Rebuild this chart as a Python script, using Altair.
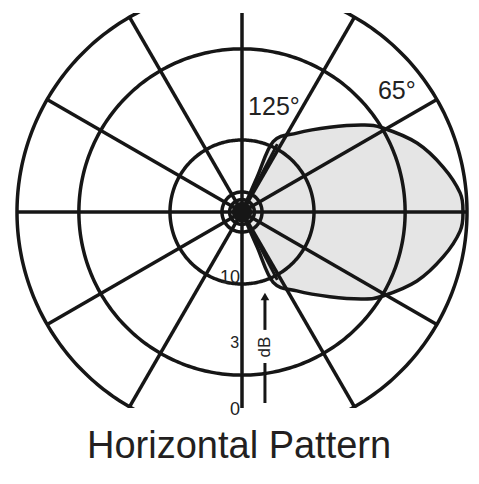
import numpy as np
import pandas as pd
import altair as alt

# ---- values ----
ring_radius = [1.0, 0.725, 0.32, 0.089, 0.055]      # grid rings (outer ring = 0 dB)
spoke_angles = [0, 30, 60, 90, 120, 150]             # diameters, degrees
lobe_angle = [0, 5, 12.6, 21.5, 30.8, 35.7, 44.0, 55.2, 66.1, 66.6, 90]
lobe_radius = [0.982, 0.973, 0.916, 0.836, 0.729, 0.662, 0.542, 0.427, 0.342, 0.17, 0.0]
wide_half_angle = [62.5, -62.5]                      # 125 deg pattern edges
wide_radius = [0.34, 0.34]

ring_label_text = ["0", "3", "10"]
ring_label_x = [-0.009, -0.013, -0.009]
ring_label_y = [-0.902, -0.604, -0.316]
ring_label_size = [18, 16, 18]

beam_text = ["125°", "65°"]
beam_x = [0.027, 0.604]
beam_y = [0.431, 0.502]

title_text = "Horizontal Pattern"

INK = "#161616"
FONT = "Liberation Sans"
LW = 3.5

X = alt.Scale(domain=[-242 / 225, 237 / 225], zero=False, nice=False)
Y = alt.Scale(domain=[-196 / 225, 199 / 225], zero=False, nice=False)

def xy(extra=None):
    enc = dict(
        x=alt.X("x:Q", scale=X, axis=None),
        y=alt.Y("y:Q", scale=Y, axis=None),
    )
    if extra:
        enc.update(extra)
    return enc

# rings
t = np.linspace(0, 2 * np.pi, 361)
ring_rows = []
for k, r in enumerate(ring_radius):
    for i, a in enumerate(t):
        ring_rows.append({"ring": k, "i": i, "x": r * np.cos(a), "y": r * np.sin(a)})
rings_df = pd.DataFrame(ring_rows)

# spokes
spoke_rows = []
for k, a in enumerate(spoke_angles):
    ra = np.radians(a)
    spoke_rows.append({"s": k, "i": 0, "x": -np.cos(ra), "y": -np.sin(ra)})
    spoke_rows.append({"s": k, "i": 1, "x": np.cos(ra), "y": np.sin(ra)})
spokes_df = pd.DataFrame(spoke_rows)

# lobe (symmetric)
la = np.radians(lobe_angle)
lr = np.array(lobe_radius)
top_x = lr * np.cos(la)
top_y = lr * np.sin(la)
area_df = pd.DataFrame({"x": top_x, "y": top_y, "y2": -top_y})

outline_x = list(top_x[::-1]) + list(top_x[1:])
outline_y = list(top_y[::-1]) + list(-top_y[1:])
outline_df = pd.DataFrame({"x": outline_x, "y": outline_y, "i": range(len(outline_x))})

wide_rows = []
for k, (a, r) in enumerate(zip(wide_half_angle, wide_radius)):
    wide_rows.append({"w": k, "i": 0, "x": 0.0, "y": 0.0})
    wide_rows.append({"w": k, "i": 1, "x": r * np.cos(np.radians(a)), "y": r * np.sin(np.radians(a))})
wide_df = pd.DataFrame(wide_rows)

area = alt.Chart(area_df).mark_area(color="#e5e5e5", interpolate="cardinal", clip=True).encode(
    x=alt.X("x:Q", scale=X, axis=None),
    y=alt.Y("y:Q", scale=Y, axis=None),
    y2="y2:Q",
)

rings = alt.Chart(rings_df).mark_line(color=INK, strokeWidth=LW, clip=True).encode(
    **xy({"detail": "ring:N", "order": "i:Q"})
)

spokes = alt.Chart(spokes_df).mark_line(color=INK, strokeWidth=LW, clip=True).encode(
    **xy({"detail": "s:N", "order": "i:Q"})
)

outline = alt.Chart(outline_df).mark_line(color=INK, strokeWidth=LW, interpolate="cardinal", clip=True).encode(
    **xy({"order": "i:Q"})
)

wide = alt.Chart(wide_df).mark_line(color=INK, strokeWidth=3, clip=True).encode(
    **xy({"detail": "w:N", "order": "i:Q"})
)

hub = alt.Chart(pd.DataFrame({"x": [0.0], "y": [0.0]})).mark_point(
    filled=True, color=INK, size=420, opacity=1
).encode(**xy())

ring_labels = alt.Chart(pd.DataFrame({
    "x": ring_label_x, "y": ring_label_y, "t": ring_label_text, "s": ring_label_size
})).mark_text(align="right", baseline="alphabetic", font=FONT, color="#222222").encode(
    **xy({"text": "t:N", "size": alt.Size("s:Q", scale=None, legend=None)})
)

beam_labels = alt.Chart(pd.DataFrame({"x": beam_x, "y": beam_y, "t": beam_text})).mark_text(
    align="left", baseline="alphabetic", font=FONT, fontSize=25, color="#222222"
).encode(**xy({"text": "t:N"}))

# dB arrow
arrow_x = 0.102
arrow_segs = pd.DataFrame({
    "seg": [0, 0, 1, 1],
    "i": [0, 1, 0, 1],
    "x": [arrow_x] * 4,
    "y": [-0.391, -0.524, -0.671, -0.849],
})
arrow_lines = alt.Chart(arrow_segs).mark_line(color=INK, strokeWidth=3).encode(
    **xy({"detail": "seg:N", "order": "i:Q"})
)
arrow_head = alt.Chart(pd.DataFrame({"x": [arrow_x], "y": [-0.375]})).mark_point(
    shape="triangle-up", filled=True, color=INK, size=75, opacity=1
).encode(**xy())
db_text = alt.Chart(pd.DataFrame({"x": [arrow_x + 0.002], "y": [-0.6], "t": ["dB"]})).mark_text(
    angle=270, align="center", baseline="middle", font=FONT, fontSize=17, color="#222222"
).encode(**xy({"text": "t:N"}))

title = alt.Chart(pd.DataFrame({"x": [-0.013], "y": [-1.093], "t": [title_text]})).mark_text(
    align="center", baseline="alphabetic", font=FONT, fontSize=38, color="#231f20"
).encode(**xy({"text": "t:N"}))

chart = alt.layer(
    area, spokes, rings, outline, wide, hub,
    ring_labels, beam_labels, arrow_lines, arrow_head, db_text, title
).properties(
    width=479, height=395,
    padding={"left": 0, "top": 13, "right": 0, "bottom": 76},
    autosize=alt.AutoSizeParams(type="none"),
    background="white",
).configure_view(stroke=None)

chart.save("out.html", embed_options={"renderer": "svg", "actions": False})
